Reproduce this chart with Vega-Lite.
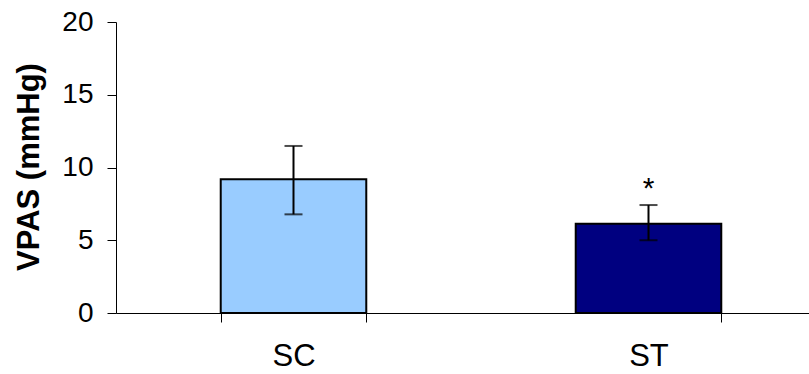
{
  "$schema": "https://vega.github.io/schema/vega-lite/v6.json",
  "width": 710,
  "height": 291,
  "autosize": {"type": "none"},
  "padding": {"left": 116, "top": 22, "right": 0, "bottom": 61},
  "background": "white",
  "config": {
    "view": {"stroke": null},
    "font": "Liberation Sans"
  },
  "data": {
    "values": [
      {"group": "SC", "value": 9.19, "lower": 6.78, "upper": 11.48, "sig": ""},
      {"group": "ST", "value": 6.14, "lower": 5.0, "upper": 7.42, "sig": "*"}
    ]
  },
  "encoding": {
    "x": {
      "field": "group",
      "type": "nominal",
      "sort": null,
      "scale": {"paddingInner": 0.59, "paddingOuter": 0.295},
      "axis": {
        "title": null,
        "labelAngle": 0,
        "labelFontSize": 31,
        "labelColor": "black",
        "labelPadding": 19,
        "labelBaseline": "top",
        "tickBand": "extent",
        "tickSize": 9,
        "tickColor": "black",
        "domainColor": "black",
        "domainWidth": 1,
        "tickWidth": 1
      }
    }
  },
  "layer": [
    {
      "mark": {"type": "bar", "stroke": "black", "strokeWidth": 2},
      "encoding": {
        "y": {
          "field": "value",
          "type": "quantitative",
          "scale": {"domain": [0, 20]},
          "axis": {
            "title": "VPAS (mmHg)",
            "titleFontSize": 31,
            "titleFontWeight": "bold",
            "titleColor": "black",
            "titleAngle": 270,
            "titleX": -87,
            "titleY": 144.5,
            "titleAlign": "center",
            "titleBaseline": "middle",
            "values": [0, 5, 10, 15, 20],
            "labelFontSize": 28,
            "labelColor": "black",
            "labelPadding": 14,
            "tickSize": 9,
            "tickColor": "black",
            "domainColor": "black",
            "grid": false
          }
        },
        "fill": {
          "field": "group",
          "type": "nominal",
          "scale": {"domain": ["SC", "ST"], "range": ["#99CCFF", "#000080"]},
          "legend": null
        }
      }
    },
    {
      "mark": {"type": "rule", "color": "black", "strokeWidth": 2},
      "encoding": {
        "y": {"field": "lower", "type": "quantitative"},
        "y2": {"field": "upper"}
      }
    },
    {
      "mark": {"type": "tick", "color": "black", "thickness": 2, "size": 18, "orient": "horizontal"},
      "encoding": {
        "y": {"field": "lower", "type": "quantitative"}
      }
    },
    {
      "mark": {"type": "tick", "color": "black", "thickness": 2, "size": 18, "orient": "horizontal"},
      "encoding": {
        "y": {"field": "upper", "type": "quantitative"}
      }
    },
    {
      "mark": {"type": "text", "fontSize": 30, "color": "black", "baseline": "alphabetic", "dy": -7},
      "encoding": {
        "y": {"field": "upper", "type": "quantitative"},
        "text": {"field": "sig"}
      }
    }
  ]
}
